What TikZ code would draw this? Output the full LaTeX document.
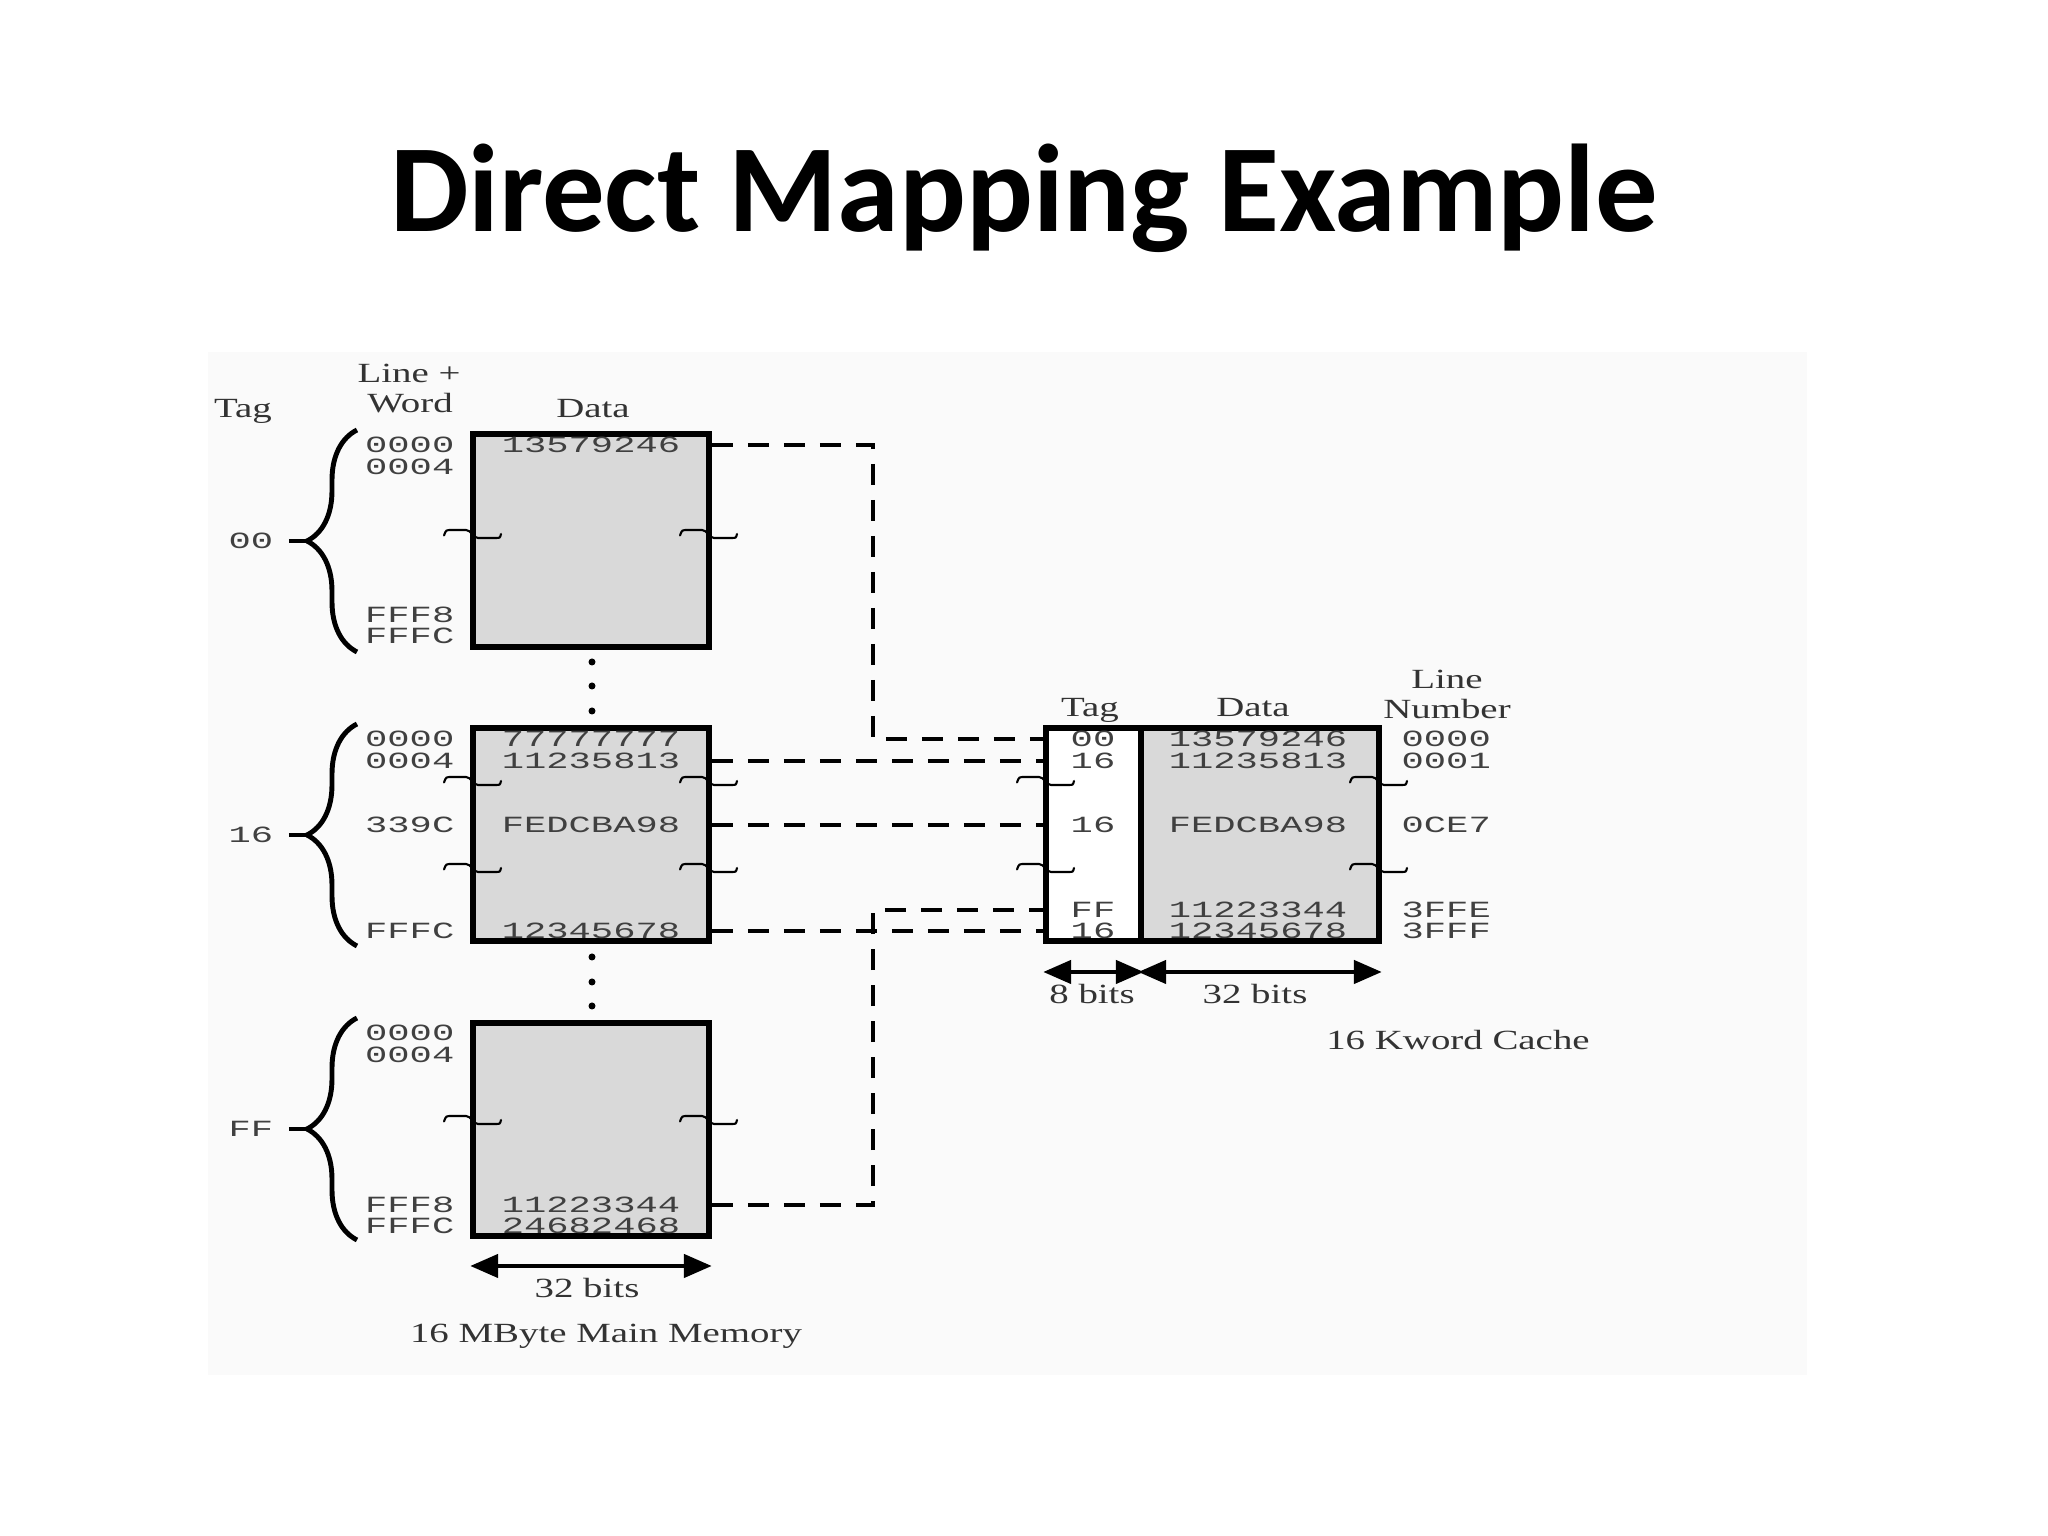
\documentclass[tikz,border=0pt]{standalone}
\usepackage{fontspec}
\usepackage{tikz}
\usetikzlibrary{arrows.meta,decorations.pathreplacing}
\newfontfamily\titlefont{Carlito}
\newfontfamily\hexfont[FakeStretch=1.6]{Liberation Mono}
\newfontfamily\labfont[FakeStretch=1.4]{Liberation Serif}

\begin{document}
\begin{tikzpicture}[
  memblock/.style={draw, line width=1.6pt, fill=black!15, minimum width=2.36cm, minimum height=2.13cm, inner sep=0pt},
  tagcol/.style={memblock, fill=white, minimum width=0.95cm},
  hexval/.style={text=black!75, font=\hexfont\fontsize{6.6}{8}\selectfont, inner sep=0pt},
  lbl/.style={text=black!80, font=\labfont\fontsize{7.9}{9}\selectfont, inner sep=0pt},
  conn/.style={line width=1.2pt, dash pattern=on 0.21cm off 0.15cm},
  bitarrow/.style={line width=1.3pt, {Triangle[length=0.28cm,width=0.23cm]}-{Triangle[length=0.28cm,width=0.23cm]}},
  tagbrace/.style={line width=1.4pt, decorate, decoration={brace, amplitude=0.5cm}},
  brk/.pic={\draw[line width=0.6pt, line cap=round] (-0.29,-0.015) .. controls (-0.27,0.04) .. (-0.21,0.04) -- (-0.07,0.04) .. controls (-0.02,0.04) and (0,-0.04) .. (0.05,-0.04) -- (0.23,-0.04) .. controls (0.27,-0.04) .. (0.28,0);}
]
\useasboundingbox (0,0) rectangle (20.48,15.36);
\fill[black!2] (2.08,1.61) rectangle (18.07,11.84);

\node[font=\titlefont\bfseries\fontsize{35.5}{40}\selectfont, anchor=base] (title) at (10.24,13.04) {Direct Mapping Example};

%%%%%%%%%%%%%%%%%%%%%%%%%%%% main memory %%%%%%%%%%%%%%%%%%%%
\node[lbl,anchor=base] (htag) at (2.43,11.18) {Tag};
\node[lbl,anchor=base] (hline) at (4.09,11.53) {Line +};
\node[lbl,anchor=base] (hword) at (4.10,11.23) {Word};
\node[lbl,anchor=base] (hdata) at (5.93,11.18) {Data};

% tag 00
\node[memblock] (mem00) at (5.91,9.955) {};
\node[hexval] (d00a) at (5.91,10.91) {13579246};
\node[hexval,anchor=east] (a00a) at (4.55,10.91) {0000};
\node[hexval,anchor=east] (a00b) at (4.55,10.69) {0004};
\node[hexval,anchor=east] (a00c) at (4.55,9.21) {FFF8};
\node[hexval,anchor=east] (a00d) at (4.55,9.00) {FFFC};
\node[hexval,inner xsep=0.15cm] (t00) at (2.51,9.95) {00};
\draw[tagbrace] (3.57,8.84) -- (3.57,11.06);
\coordinate (b00) at (3.07,9.95);
\draw[line width=1.4pt] (t00.east) -- (b00);

% tag 16
\node[memblock] (mem16) at (5.91,7.015) {};
\node[hexval] (d16a) at (5.91,7.97) {77777777};
\node[hexval] (d16b) at (5.91,7.75) {11235813};
\node[hexval] (d16c) at (5.91,7.11) {FEDCBA98};
\node[hexval] (d16d) at (5.91,6.05) {12345678};
\node[hexval,anchor=east] (a16a) at (4.55,7.97) {0000};
\node[hexval,anchor=east] (a16b) at (4.55,7.75) {0004};
\node[hexval,anchor=east] (a16c) at (4.55,7.11) {339C};
\node[hexval,anchor=east] (a16d) at (4.55,6.05) {FFFC};
\node[hexval,inner xsep=0.15cm] (t16) at (2.51,7.01) {16};
\draw[tagbrace] (3.57,5.90) -- (3.57,8.12);
\coordinate (b16) at (3.07,7.01);
\draw[line width=1.4pt] (t16.east) -- (b16);

% tag FF
\node[memblock] (memFF) at (5.91,4.065) {};
\node[hexval] (dFFa) at (5.91,3.31) {11223344};
\node[hexval] (dFFb) at (5.91,3.10) {24682468};
\node[hexval,anchor=east] (aFFa) at (4.55,5.03) {0000};
\node[hexval,anchor=east] (aFFb) at (4.55,4.81) {0004};
\node[hexval,anchor=east] (aFFc) at (4.55,3.31) {FFF8};
\node[hexval,anchor=east] (aFFd) at (4.55,3.10) {FFFC};
\node[hexval,inner xsep=0.15cm] (tFF) at (2.51,4.07) {FF};
\draw[tagbrace] (3.57,2.96) -- (3.57,5.18);
\coordinate (bFF) at (3.07,4.07);
\draw[line width=1.4pt] (tFF.east) -- (bFF);

\foreach \y in {8.74,8.50,8.25,5.79,5.54,5.30} \fill (5.92,\y) circle (0.035);

\pic at (4.73,10.02) {brk}; \pic at (7.09,10.02) {brk};
\pic at (4.73,7.55) {brk}; \pic at (7.09,7.55) {brk};
\pic at (4.73,6.68) {brk}; \pic at (7.09,6.68) {brk};
\pic at (4.73,4.16) {brk}; \pic at (7.09,4.16) {brk};

\coordinate (mbar) at (0,2.70);
\draw[bitarrow] (memFF.west |- mbar) -- (memFF.east |- mbar);
\node[lbl,anchor=base] (wbits) at (5.87,2.38) {32 bits};
\node[lbl,anchor=base] (mmcap) at (6.06,1.93) {16 MByte Main Memory};

%%%%%%%%%%%%%%%%%%%%%%%%%%%% cache %%%%%%%%%%%%%%%%%%%%
\node[lbl,anchor=base] (ctaghd) at (10.90,8.19) {Tag};
\node[lbl,anchor=base] (cdathd) at (12.53,8.19) {Data};
\node[lbl,anchor=base] (clinhd) at (14.47,8.47) {Line};
\node[lbl,anchor=base] (cnumhd) at (14.47,8.17) {Number};

\node[tagcol] (ctag) at (10.935,7.015) {};
\node[memblock, minimum width=2.38cm] (cdat) at (12.60,7.015) {};

\node[hexval] (k00) at (10.93,7.97) {00};
\node[hexval] (k16a) at (10.93,7.75) {16};
\node[hexval] (k16b) at (10.93,7.11) {16};
\node[hexval] (kFF) at (10.93,6.26) {FF};
\node[hexval] (k16c) at (10.93,6.05) {16};

\node[hexval] (c0000) at (12.58,7.97) {13579246};
\node[hexval] (c0001) at (12.58,7.75) {11235813};
\node[hexval] (c0CE7) at (12.58,7.11) {FEDCBA98};
\node[hexval] (c3FFE) at (12.58,6.26) {11223344};
\node[hexval] (c3FFF) at (12.58,6.05) {12345678};

\node[hexval,anchor=west] (n0000) at (14.01,7.97) {0000};
\node[hexval,anchor=west] (n0001) at (14.01,7.75) {0001};
\node[hexval,anchor=west] (n0CE7) at (14.01,7.11) {0CE7};
\node[hexval,anchor=west] (n3FFE) at (14.01,6.26) {3FFE};
\node[hexval,anchor=west] (n3FFF) at (14.01,6.05) {3FFF};

\pic at (10.46,7.55) {brk}; \pic at (13.79,7.55) {brk};
\pic at (10.46,6.68) {brk}; \pic at (13.79,6.68) {brk};

\coordinate (cbar) at (0,5.64);
\draw[bitarrow] (ctag.west |- cbar) -- (ctag.east |- cbar);
\draw[bitarrow] (cdat.west |- cbar) -- (cdat.east |- cbar);
\node[lbl,anchor=base] (tbits) at (10.92,5.32) {8 bits};
\node[lbl,anchor=base] (dbits) at (12.55,5.32) {32 bits};
\node[lbl,anchor=base] (cccap) at (14.58,4.86) {16 Kword Cache};

%%%%%%%%%%%%%%%%%%%%%%%%%%%% mapping %%%%%%%%%%%%%%%%%%%%
\coordinate (jogA) at (8.73,7.97);
\coordinate (jogB) at (8.73,6.26);
\draw[conn] (mem00.east |- d00a) -| (jogA) -- (ctag.west |- k00);
\draw[conn] (mem16.east |- d16b) -- (ctag.west |- k16a);
\draw[conn] (mem16.east |- d16c) -- (ctag.west |- k16b);
\draw[conn] (mem16.east |- d16d) -- (ctag.west |- k16c);
\draw[conn] (memFF.east |- dFFa) -| (jogB) -- (ctag.west |- kFF);

\end{tikzpicture}
\end{document}
